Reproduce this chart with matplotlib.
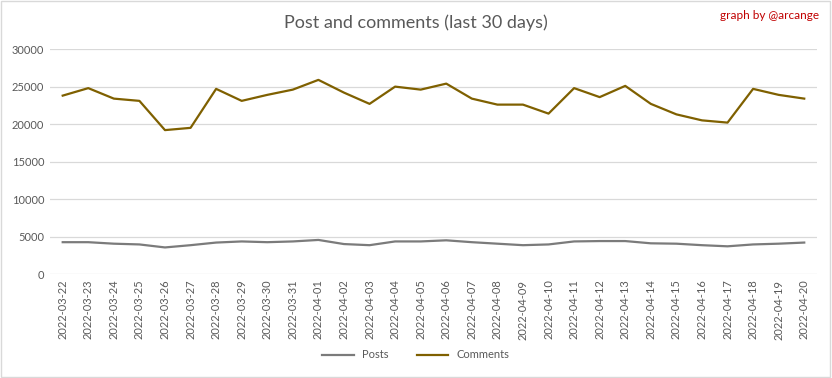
import matplotlib.pyplot as plt
import matplotlib.patches as mpatches
import numpy as np

dates = ['2022-03-22', '2022-03-23', '2022-03-24', '2022-03-25', '2022-03-26',
         '2022-03-27', '2022-03-28', '2022-03-29', '2022-03-30', '2022-03-31',
         '2022-04-01', '2022-04-02', '2022-04-03', '2022-04-04', '2022-04-05',
         '2022-04-06', '2022-04-07', '2022-04-08', '2022-04-09', '2022-04-10',
         '2022-04-11', '2022-04-12', '2022-04-13', '2022-04-14', '2022-04-15',
         '2022-04-16', '2022-04-17', '2022-04-18', '2022-04-19', '2022-04-20']

posts = [4250, 4250, 4050, 3950, 3550, 3850, 4200, 4350, 4250, 4350,
         4550, 4000, 3850, 4350, 4350, 4500, 4250, 4050, 3850, 3950,
         4350, 4400, 4400, 4100, 4050, 3850, 3700, 3950, 4050, 4200]

comments = [23800, 24800, 23400, 23100, 19200, 19500, 24700, 23100, 23900, 24600,
            25900, 24200, 22700, 25000, 24600, 25400, 23400, 22600, 22600, 21400,
            24800, 23600, 25100, 22700, 21300, 20500, 20200, 24700, 23900, 23400]

text_color = '#595959'
plt.rcParams['font.family'] = ['Lato', 'DejaVu Sans']

fig = plt.figure(figsize=(8.32, 3.78), dpi=100)
ax = fig.add_axes([0.060, 0.275, 0.922, 0.595])

x = np.arange(len(dates))
ax.plot(x, posts, color='#7B7B7B', linewidth=1.6, label='Posts')
ax.plot(x, comments, color='#7F6000', linewidth=1.6, label='Comments')

ax.set_xlim(-0.5, len(dates) - 0.5)
ax.set_ylim(0, 30000)
ax.set_yticks(np.arange(0, 30001, 5000))
ax.set_yticklabels([str(v) for v in range(0, 30001, 5000)], fontsize=8, color=text_color)
ax.set_xticks(x)
ax.set_xticklabels(dates, rotation=90, fontsize=8, color=text_color)
ax.tick_params(length=0, pad=4)
ax.grid(axis='y', color='#D9D9D9', linewidth=0.9)
ax.set_axisbelow(True)
for s in ax.spines.values():
    s.set_visible(False)

fig.text(0.50, 0.94, 'Post and comments (last 30 days)', ha='center', va='center',
         fontsize=13, color=text_color)
fig.text(0.985, 0.96, 'graph by @arcange', ha='right', va='center',
         fontsize=8.5, color='#C00000')

fig.legend(loc='lower center', bbox_to_anchor=(0.5, 0.02), ncol=2, frameon=False,
           fontsize=8, labelcolor=text_color, handlelength=2.8, columnspacing=2.5)

fig.patches.append(mpatches.Rectangle((0.001, 0.002), 0.997, 0.995, transform=fig.transFigure,
                                      fill=False, edgecolor='#D9D9D9', linewidth=1))

fig.savefig('out.png', dpi=100)
